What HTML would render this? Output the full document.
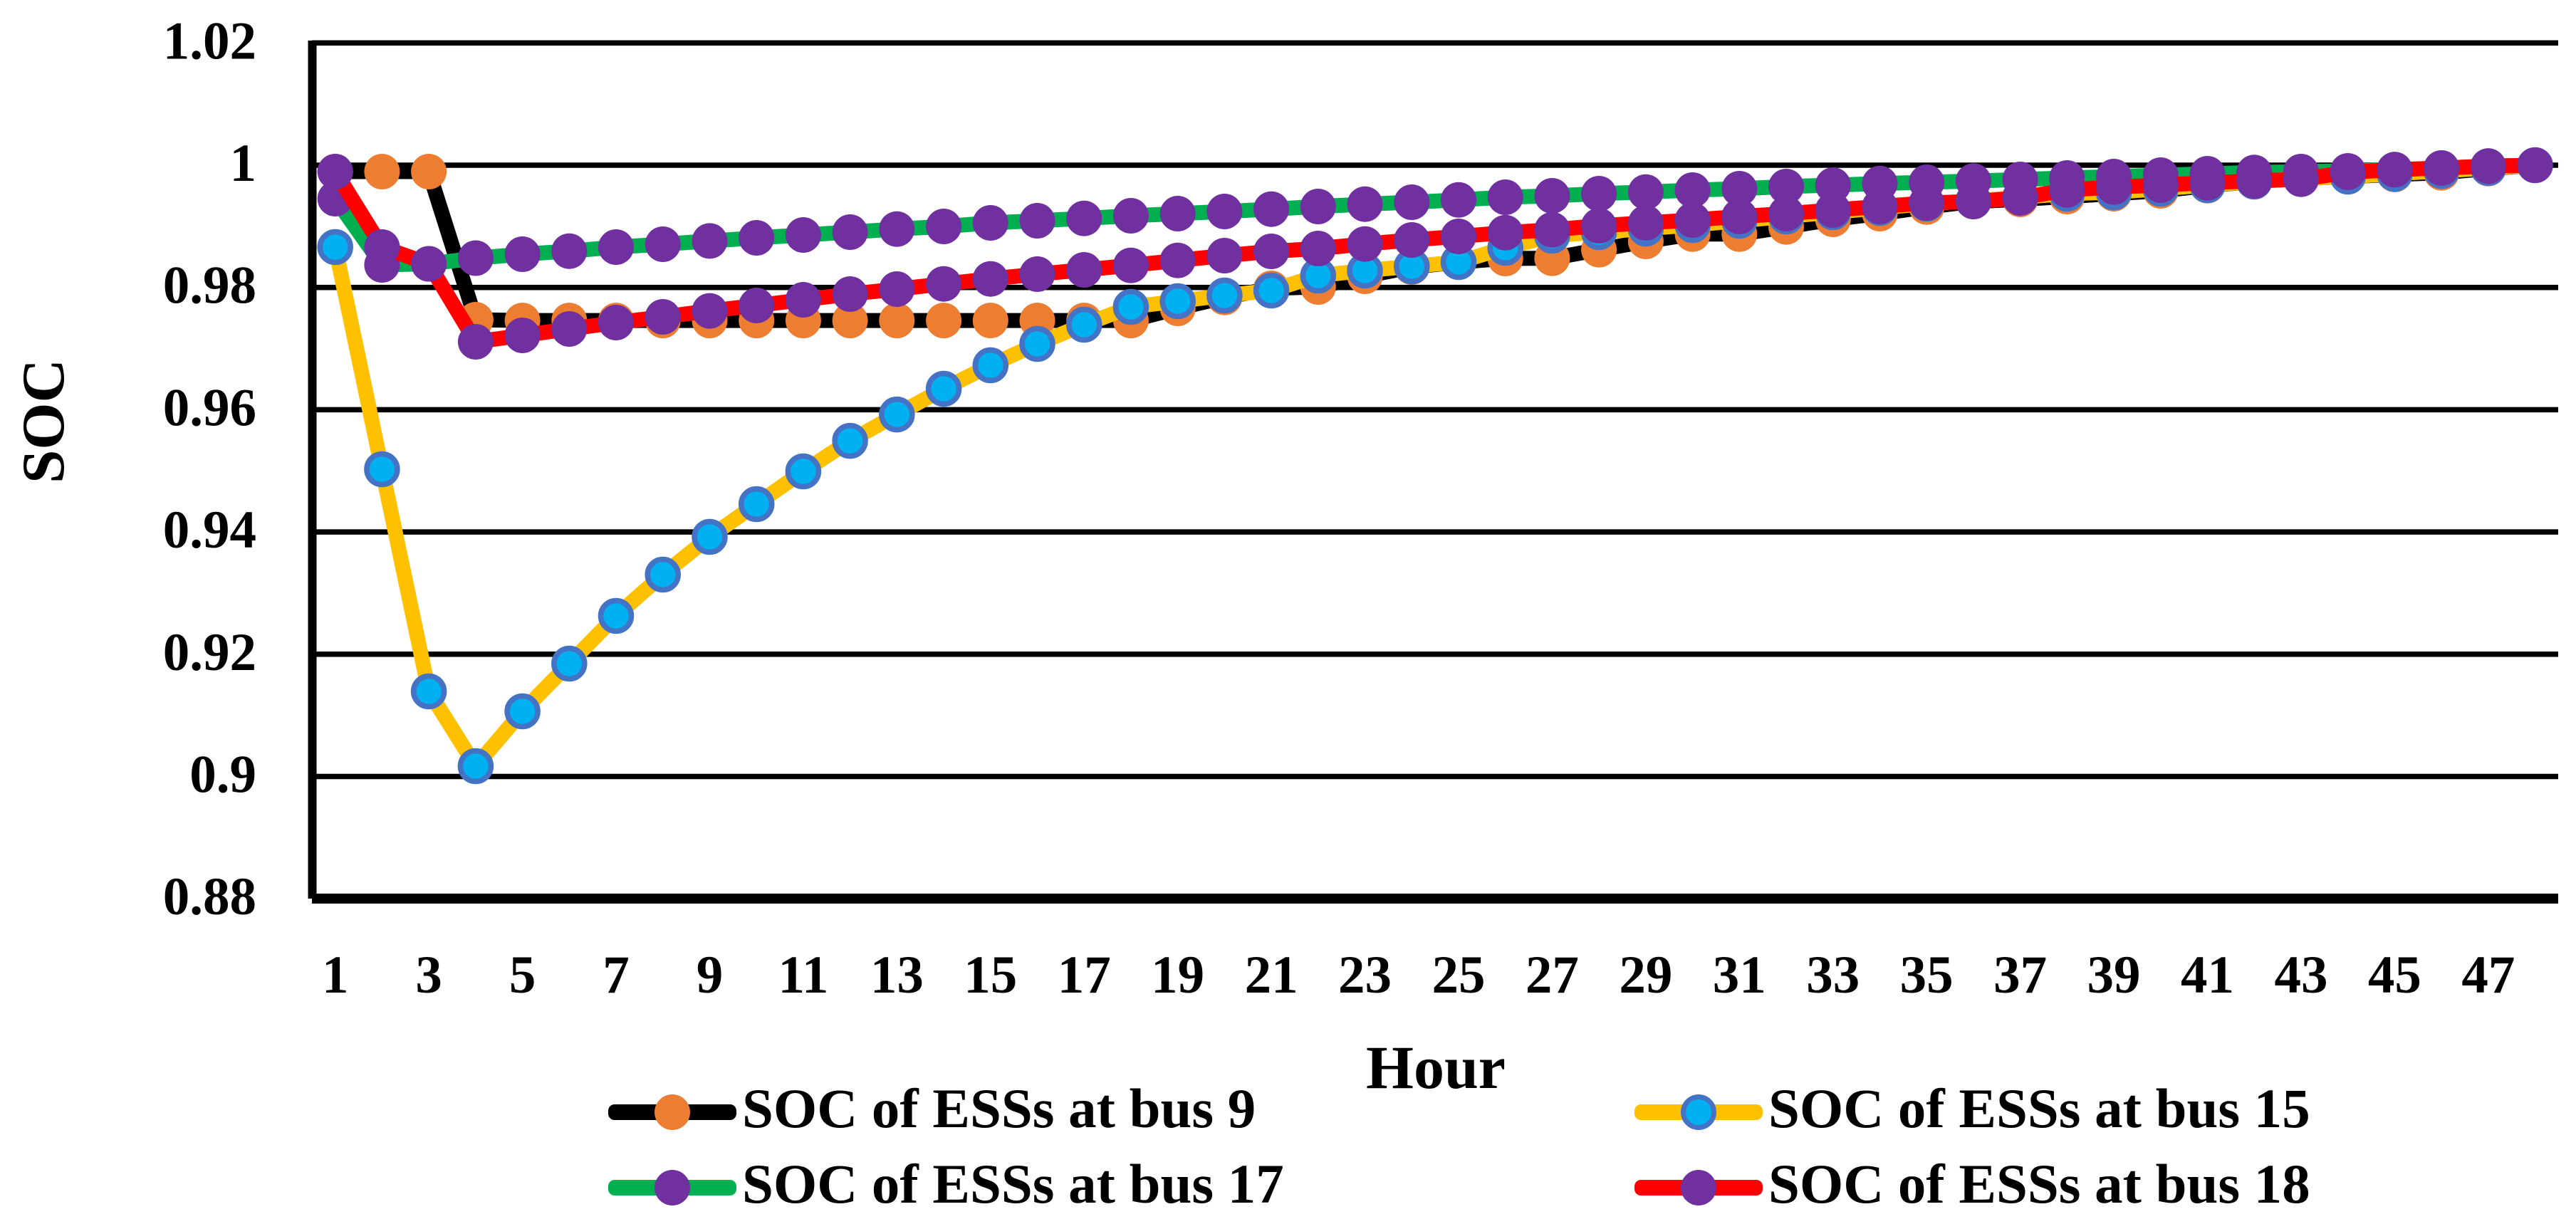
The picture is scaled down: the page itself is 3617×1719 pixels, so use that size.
<!DOCTYPE html>
<html lang="en">
<head>
<meta charset="utf-8">
<title>SOC of ESSs by hour</title>
<style>
html,body{margin:0;padding:0;background:#fff;}
svg{display:block;}
text{font-family:"Liberation Serif",serif;font-weight:bold;fill:#000;}
</style>
</head>
<body>
<svg id="chart" xmlns="http://www.w3.org/2000/svg" width="3617" height="1719" viewBox="0 0 3617 1719">
  <rect x="0" y="0" width="3617" height="1719" fill="#ffffff"/>
  <g id="grid"></g>
  <g id="yticks"></g>
  <g id="xticks"></g>
  <g id="series"></g>
  <text transform="translate(89,591.5) rotate(-90)" text-anchor="middle" font-size="85">SOC</text>
  <text x="2016" y="1528" text-anchor="middle" font-size="86">Hour</text>
  <g>
    <g>
      <rect x="854" y="1551" width="180" height="22" rx="9" fill="#000000"/>
      <circle cx="944" cy="1562" r="25" fill="#ED7D31"/>
      <text x="1042" y="1583" font-size="78.9">SOC of ESSs at bus 9</text>
    </g>
    <g>
      <rect x="2295" y="1551" width="180" height="22" rx="9" fill="#FFC000"/>
      <circle cx="2385" cy="1562" r="21.5" fill="#00B0F0" stroke="#4472C4" stroke-width="7"/>
      <text x="2483" y="1583" font-size="78.9">SOC of ESSs at bus 15</text>
    </g>
    <g>
      <rect x="854" y="1657" width="180" height="22" rx="9" fill="#00B050"/>
      <circle cx="944" cy="1668" r="25" fill="#7030A0"/>
      <text x="1042" y="1689" font-size="78.9">SOC of ESSs at bus 17</text>
    </g>
    <g>
      <rect x="2295" y="1657" width="180" height="22" rx="9" fill="#FF0000"/>
      <circle cx="2385" cy="1668" r="25" fill="#7030A0"/>
      <text x="2483" y="1689" font-size="78.9">SOC of ESSs at bus 18</text>
    </g>
  </g>
  <rect x="432.5" y="57" width="12" height="1205" fill="#000"/>
  <rect x="438" y="1255" width="3154" height="14" fill="#000"/>
</svg>
<script>
var hours = [1,2,3,4,5,6,7,8,9,10,11,12,13,14,15,16,17,18,19,20,21,22,23,24,25,26,27,28,29,30,31,32,33,34,35,36,37,38,39,40,41,42,43,44,45,46,47,48];
var yTickLabels = ["1.02","1","0.98","0.96","0.94","0.92","0.9","0.88"];
var xTickLabels = ["1","3","5","7","9","11","13","15","17","19","21","23","25","27","29","31","33","35","37","39","41","43","45","47"];
var socBus9 = [0.99895,0.99895,0.99895,0.97472,0.9746,0.9746,0.9746,0.9746,0.9746,0.9746,0.9746,0.9746,0.9746,0.9746,0.9746,0.9746,0.9746,0.9746,0.97659,0.97837,0.97985,0.98008,0.98183,0.98334,0.98416,0.98474,0.98478,0.98617,0.98754,0.98874,0.98874,0.9899,0.99115,0.99208,0.99316,0.99406,0.99441,0.99487,0.99534,0.99581,0.99666,0.99732,0.99782,0.99814,0.99849,0.99875,0.99945,1];
var socBus15 = [0.9866,0.95026,0.91392,0.90169,0.91066,0.91846,0.92627,0.93302,0.9392,0.94455,0.94991,0.95491,0.95922,0.96343,0.96727,0.97076,0.97391,0.97682,0.97775,0.97868,0.9795,0.98195,0.98276,0.98346,0.98416,0.98649,0.98847,0.98905,0.98963,0.99022,0.99091,0.99161,0.99231,0.99301,0.99371,0.99418,0.99476,0.99534,0.99557,0.99616,0.99674,0.99732,0.99779,0.99814,0.9986,0.99907,0.99953,1];
var socBus17 = [0.99453,0.98369,0.98387,0.9848,0.98544,0.98594,0.9866,0.98707,0.98761,0.98812,0.98858,0.98905,0.98955,0.98998,0.99056,0.99091,0.9913,0.99173,0.99208,0.99243,0.99281,0.99324,0.99363,0.99394,0.99433,0.99476,0.99499,0.99534,0.99561,0.99592,0.99616,0.99651,0.99674,0.99701,0.9972,0.9974,0.99767,0.9979,0.99814,0.99837,0.9986,0.9988,0.99895,0.99907,0.99927,0.99953,0.99985,1];
var socBus18 = [0.99895,0.9866,0.98387,0.97111,0.97216,0.97321,0.97426,0.97519,0.97617,0.97705,0.97798,0.97892,0.97973,0.98058,0.9814,0.98218,0.98288,0.98361,0.98443,0.98521,0.98591,0.98637,0.9871,0.98777,0.98835,0.98897,0.98943,0.9901,0.99056,0.99103,0.99161,0.99208,0.99266,0.99324,0.99383,0.99406,0.99464,0.99596,0.99642,0.99674,0.99712,0.99744,0.99771,0.99884,0.99927,0.99953,0.99985,1];

var NS = 'http://www.w3.org/2000/svg';
function xScale(hour){ return 470.7 + (hour - 1) * 65.72; }
function yScale(v){ return 60.3 + (1.02 - v) * 8585; }
function mk(tag, attrs, parent){
  var el = document.createElementNS(NS, tag);
  for (var k in attrs) el.setAttribute(k, attrs[k]);
  parent.appendChild(el);
  return el;
}

var gridG = document.getElementById('grid');
var yG = document.getElementById('yticks');
var xG = document.getElementById('xticks');
var seriesG = document.getElementById('series');

yTickLabels.forEach(function(label){
  var v = parseFloat(label);
  var y = yScale(v);
  if (v > 0.881) {
    var line = mk('rect', {x: 438, y: y - 3.75, width: 3154, height: 7.5, fill: '#000'}, gridG);
    
    
  }
  var t = mk('text', {x: 360, y: y + 22, 'text-anchor': 'end', 'font-size': 75}, yG);
  t.textContent = label;
  
  
});

xTickLabels.forEach(function(label){
  var t = mk('text', {x: xScale(parseFloat(label)), y: 1394, 'text-anchor': 'middle', 'font-size': 75}, xG);
  t.textContent = label;
  
  
});

function drawSeries(values, name, lineColor, fill, stroke){
  var g = mk('g', {}, seriesG);
  
  
  var pts = values.map(function(v, i){ return xScale(hours[i]).toFixed(1) + ',' + yScale(v).toFixed(1); }).join(' ');
  var pl = mk('polyline', {points: pts, fill: 'none', stroke: lineColor, 'stroke-width': 21, 'stroke-linejoin': 'round', 'stroke-linecap': 'round'}, g);
  
  
  values.forEach(function(v, i){
    var attrs = {cx: xScale(hours[i]).toFixed(1), cy: yScale(v).toFixed(1), r: stroke ? 21.5 : 25, fill: fill};
    if (stroke) { attrs.stroke = stroke; attrs['stroke-width'] = 7.5; }
    var c = mk('circle', attrs, g);
    
    
  });
}

drawSeries(socBus9, 'bus-9', '#000000', '#ED7D31', null);
drawSeries(socBus15, 'bus-15', '#FFC000', '#00B0F0', '#4472C4');
drawSeries(socBus17, 'bus-17', '#00B050', '#7030A0', null);
drawSeries(socBus18, 'bus-18', '#FF0000', '#7030A0', null);
</script>
</body>
</html>
